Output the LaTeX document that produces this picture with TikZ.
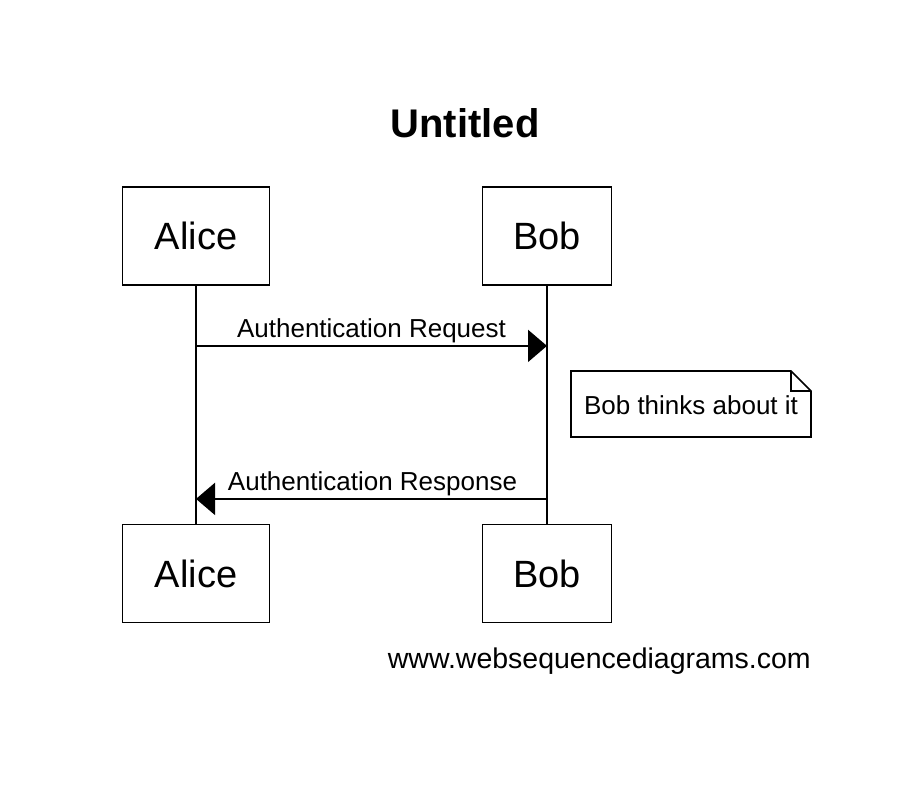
\documentclass[tikz,border=0pt]{standalone}
\usepackage{fontspec}
\setmainfont{Liberation Sans}
\usetikzlibrary{arrows.meta}
\begin{document}
\begin{tikzpicture}[x=1pt,y=-1pt,
  actor/.style={draw, line width=1.8pt, minimum height=98pt, inner sep=0pt,
    font=\fontsize{38}{40}\selectfont},
  life/.style={line width=1.8pt},
  msg/.style={line width=1.8pt, -{Triangle[length=19pt,width=32pt]}},
  msglabel/.style={anchor=base, inner sep=0pt, font=\fontsize{26}{28}\selectfont},
  notebox/.style={draw, line width=1.6pt, fill=white}
]
\useasboundingbox (0,0) rectangle (902,794);
% title
\node[anchor=base, inner sep=0pt, font=\fontsize{40}{42}\selectfont\bfseries] (title) at (465,138) {Untitled};
% actors
\node[actor, minimum width=147pt] (a1) at (196,236) {Alice};
\node[actor, minimum width=129pt] (b1) at (547,236) {Bob};
\node[actor, minimum width=147pt] (a2) at (196,573.5) {Alice};
\node[actor, minimum width=129pt] (b2) at (547,573.5) {Bob};
% lifelines
\draw[life] (a1.south) -- (a2.north);
\draw[life] (b1.south) -- (b2.north);
% message anchors
\path (a1.south) ++(0,60) coordinate (reqA);
\path (b1.south) ++(0,60) coordinate (reqB);
\path (a1.south) ++(0,213) coordinate (resA);
\path (b1.south) ++(0,213) coordinate (resB);
% messages
\draw[msg] (reqA) -- (reqB);
\node[msglabel] (reqlabel) at (371.5,337) {Authentication Request};
\draw[msg] (resB) -- (resA);
\node[msglabel] (reslabel) at (372.5,490) {Authentication Response};
% note
\draw[notebox] (571,371) -- (791,371) -- (811,391) -- (811,437) -- (571,437) -- cycle;
\draw[line width=1.6pt] (791,371) -- (791,391) -- (811,391);
\node[msglabel] (note) at (691,414) {Bob thinks about it};
% watermark
\node[anchor=base east, inner sep=0pt, font=\fontsize{28.5}{30}\selectfont] (wm) at (811,668) {www.websequencediagrams.com};
\end{tikzpicture}
\end{document}
